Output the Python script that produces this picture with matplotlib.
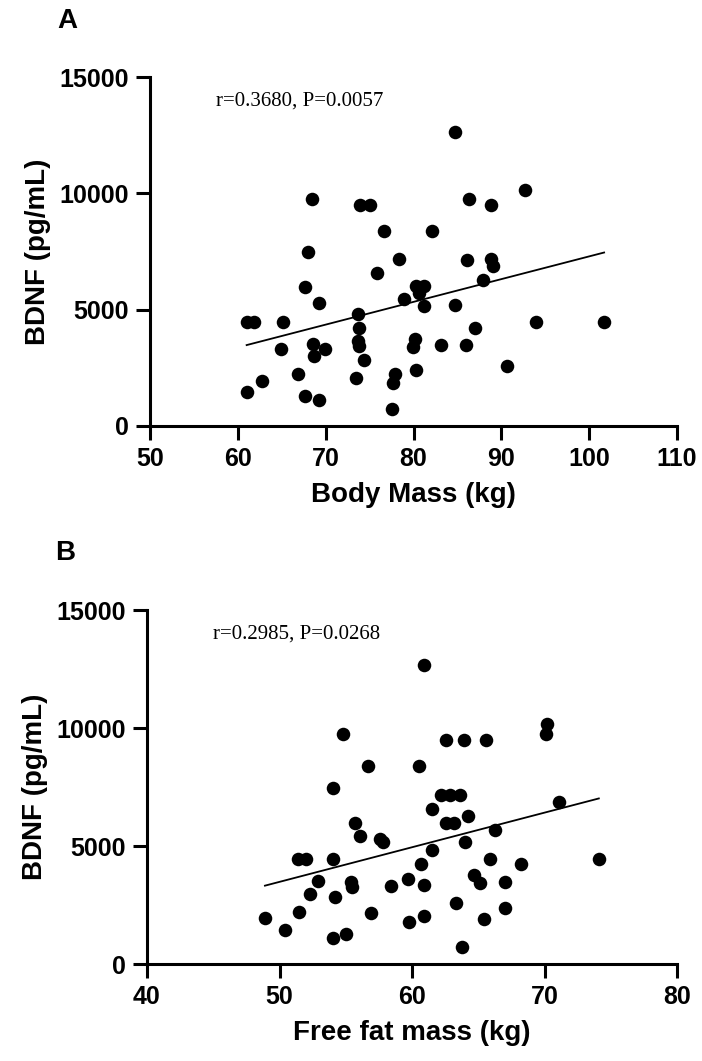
import numpy as np
import matplotlib
matplotlib.use('Agg')
import matplotlib.pyplot as plt

plt.rcParams['font.family'] = ['Liberation Sans', 'DejaVu Sans']
plt.rcParams['font.weight'] = 'bold'

# panel A: body mass vs BDNF
mass_kg = [61.0, 61.0, 61.8, 62.8, 65.1, 64.9, 66.8, 67.6, 67.6, 68.0,
           68.4, 68.5, 68.7, 69.2, 69.2, 69.9, 73.5, 73.7, 73.8, 73.7,
           73.8, 73.9, 75.1, 74.4, 75.8, 76.6, 77.5, 77.7, 77.9, 78.3,
           78.9, 79.9, 80.2, 80.3, 80.3, 80.6, 81.2, 81.2, 82.1, 83.1,
           84.7, 84.7, 86.0, 86.1, 86.3, 87.0, 87.9, 88.8, 88.8, 89.0,
           90.7, 92.7, 94.0, 101.7]
bdnf_a = [1480, 4450, 4450, 1950, 4450, 3300, 2230, 1310, 5990, 7460,
          9740, 3540, 3030, 1120, 5300, 3300, 2050, 4830, 4230, 3650,
          3450, 9490, 9490, 2850, 6580, 8380, 750, 1850, 2230, 7160,
          5450, 3380, 3760, 2390, 6010, 5720, 6010, 5170, 8380, 3470,
          12640, 5180, 3470, 7140, 9740, 4230, 6290, 9490, 7160, 6860,
          2600, 10140, 4450, 4450]

# panel B: free fat mass vs BDNF
ffm_kg = [48.9, 50.4, 51.5, 51.4, 52.0, 52.3, 52.9, 54.0, 54.0, 54.2,
          54.0, 54.8, 55.0, 55.4, 55.5, 55.7, 56.1, 56.7, 56.9, 57.6,
          57.8, 58.4, 59.7, 59.8, 60.5, 60.7, 60.9, 60.9, 60.9, 61.5,
          61.5, 62.2, 62.6, 62.6, 62.9, 63.2, 63.3, 63.6, 63.8, 63.9,
          64.0, 64.2, 64.7, 65.1, 65.4, 65.6, 65.9, 66.3, 67.0, 67.0,
          68.2, 70.1, 70.2, 71.1, 74.1]
bdnf_b = [1940, 1450, 2210, 4450, 4450, 2980, 3520, 7460, 4450, 2840,
          1090, 9760, 1280, 3460, 3260, 5980, 5420, 8400, 2170, 5290,
          5160, 3290, 3620, 1790, 8400, 4230, 12660, 3360, 2030, 4820,
          6570, 7150, 9500, 5980, 7150, 5980, 2580, 7150, 720, 9500,
          5160, 6270, 3760, 3430, 1900, 9500, 4450, 5700, 3460, 2370,
          4230, 9740, 10170, 6860, 4450]

stats_a = 'r=0.3680, P=0.0057'
stats_b = 'r=0.2985, P=0.0268'

fig = plt.figure(figsize=(7.02, 10.61), dpi=100)
ax1 = fig.add_axes([0.2137, 0.5985, 0.7507, 0.3289])
ax2 = fig.add_axes([0.2094, 0.0914, 0.755, 0.3336])


def panel(ax, x, y, xlim, xticks, xlabel, stats):
    ax.scatter(x, y, s=95, color='black', zorder=3, linewidths=0)
    k, b = np.polyfit(x, y, 1)
    xx = np.array([min(x), max(x)])
    ax.plot(xx, k * xx + b, color='black', lw=1.3, zorder=2)
    ax.set_xlim(xlim)
    ax.set_ylim(0, 15000)
    ax.set_xticks(xticks)
    ax.set_yticks([0, 5000, 10000, 15000])
    for s in ['top', 'right']:
        ax.spines[s].set_visible(False)
    for s in ['left', 'bottom']:
        ax.spines[s].set_linewidth(2.2)
    ax.tick_params(width=2.2, length=10, labelsize=18, pad=5)
    ax.set_xlabel(xlabel, fontsize=20, fontweight='bold', labelpad=8)
    ax.set_ylabel('BDNF (pg/mL)', fontsize=20, fontweight='bold', labelpad=6)
    ax.text(0.125, 0.932, stats, transform=ax.transAxes, family='Liberation Serif',
            fontweight='normal', fontsize=15, va='center')


panel(ax1, mass_kg, bdnf_a, (50, 110), range(50, 111, 10), 'Body Mass (kg)', stats_a)
panel(ax2, ffm_kg, bdnf_b, (40, 80), range(40, 81, 10), 'Free fat mass (kg)', stats_b)

fig.text(57 / 702, 1 - 21 / 1061, 'A', fontsize=20, fontweight='bold', va='center', ha='left')
fig.text(55 / 702, 1 - 553 / 1061, 'B', fontsize=20, fontweight='bold', va='center', ha='left')

fig.savefig('out.png', dpi=100)
